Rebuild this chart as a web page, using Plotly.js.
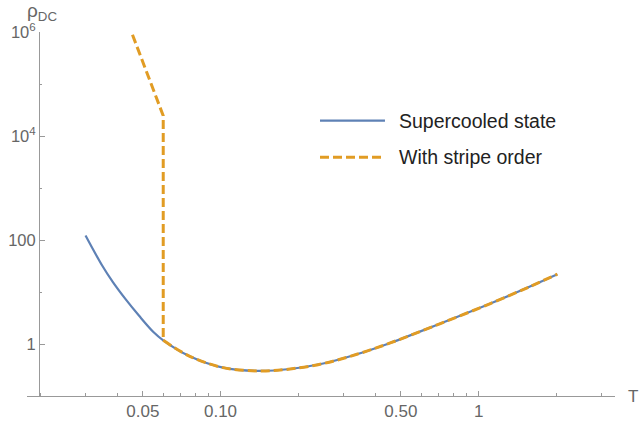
<!DOCTYPE html>
<html>
<head>
<meta charset="utf-8">
<script src="https://cdn.plot.ly/plotly-3.0.1.min.js"></script>
<style>
html,body{margin:0;padding:0;background:#fff;}
#chart{width:640px;height:426px;}
</style>
</head>
<body>
<div id="chart"></div>
<script>
// Supercooled state (blue solid)
var superT   = [0.030, 0.0348, 0.0383, 0.0428, 0.0483, 0.0551, 0.060, 0.076, 0.1023, 0.142, 0.186, 0.250, 0.3375, 0.4545, 0.711, 1.111, 1.589, 2.018];
var superRho = [123,   32.6,   15.6,   7.43,   3.56,   1.70,   1.19,  0.588, 0.356,  0.307, 0.335, 0.426, 0.642,  1.06,   2.50,  6.06,  13.0,  22.2];

// With stripe order (orange dashed): steep branch + vertical jump, then joins the curve
var stripeT   = [0.042, 0.0452, 0.060, 0.060];
var stripeRho = [2.6e6, 1.0e6,  2.46e4, 1.19];
var joinT = 0.060;

// Tick labels
var xTickVals = [0.05, 0.1, 0.5, 1];
var xTickText = ["0.05", "0.10", "0.50", "1"];
var xMinorVals = [0.02, 0.03, 0.04, 0.06, 0.07, 0.08, 0.09, 0.2, 0.3, 0.4, 0.6, 0.7, 0.8, 0.9, 2, 3];
var yTickVals = [1, 100, 1e4, 1e6];
var yTickText = ["1", "100", "10<sup>4</sup>", "10<sup>6</sup>"];
var yMinorVals = [10, 1000, 1e5];

var legendNames = ["Supercooled state", "With stripe order"];

var blue = "#5E81B5";
var orange = "#E19C24";
var axisCol = "#999999";
var labelCol = "#666666";
var fontFam = "Liberation Sans, Arial, sans-serif";

// curve part of the stripe-order line, taken from the shared curve
var curveT = [], curveRho = [];
for (var i = 0; i < superT.length; i++) {
  if (superT[i] >= joinT) { curveT.push(superT[i]); curveRho.push(superRho[i]); }
}

var traces = [
  {x: superT, y: superRho, mode: "lines", type: "scatter", showlegend: false,
   line: {color: blue, width: 2.2, shape: "spline", smoothing: 1}},
  {x: stripeT, y: stripeRho, mode: "lines", type: "scatter", showlegend: false,
   line: {color: orange, width: 3, dash: "9px,4px"}},
  {x: curveT, y: curveRho, mode: "lines", type: "scatter", showlegend: false,
   line: {color: orange, width: 3, dash: "9px,4px", shape: "spline", smoothing: 1}}
];

var legY = [0.7563, 0.6558];
var shapes = [
  {type: "line", xref: "paper", yref: "paper", x0: 0.4983, x1: 0.6088, y0: legY[0], y1: legY[0],
   line: {color: blue, width: 2.2}},
  {type: "line", xref: "paper", yref: "paper", x0: 0.4983, x1: 0.6088, y0: legY[1], y1: legY[1],
   line: {color: orange, width: 3, dash: "9px,4px"}}
];

var annotations = [
  {xref: "paper", yref: "paper", x: 0.6293, y: legY[0], xanchor: "left", yanchor: "middle",
   text: legendNames[0], showarrow: false, font: {family: fontFam, size: 19.5, color: "#222"}},
  {xref: "paper", yref: "paper", x: 0.6293, y: legY[1], xanchor: "left", yanchor: "middle",
   text: legendNames[1], showarrow: false, font: {family: fontFam, size: 19.5, color: "#222"}},
  {xref: "paper", yref: "paper", x: 0.0255, y: 1.055, xanchor: "center", yanchor: "middle",
   text: "ρ<sub>DC</sub>", showarrow: false, font: {family: fontFam, size: 19, color: labelCol}},
  {xref: "paper", yref: "paper", x: 1.0306, y: 0.0, xanchor: "center", yanchor: "middle",
   text: "T", showarrow: false, font: {family: fontFam, size: 17, color: labelCol}}
];

var layout = {
  width: 640, height: 426,
  margin: {l: 27, r: 25, t: 32, b: 30, pad: 0},
  paper_bgcolor: "#fff", plot_bgcolor: "#fff",
  showlegend: false,
  font: {family: fontFam, size: 16.5, color: labelCol},
  xaxis: {
    type: "log", range: [-1.7496, 0.5283],
    showline: true, linecolor: axisCol, linewidth: 1,
    showgrid: false, zeroline: false,
    ticks: "inside", ticklen: 5.5, tickwidth: 1, tickcolor: axisCol,
    tickmode: "array", tickvals: xTickVals, ticktext: xTickText,
    tickfont: {family: fontFam, size: 17, color: labelCol},
    minor: {tickmode: "array", tickvals: xMinorVals, ticks: "inside", ticklen: 3, tickwidth: 1, tickcolor: axisCol, showgrid: false}
  },
  yaxis: {
    type: "log", range: [-0.994, 6],
    anchor: "free", position: 0.0204,
    showline: true, linecolor: axisCol, linewidth: 1,
    showgrid: false, zeroline: false,
    ticks: "inside", ticklen: 5, tickwidth: 1, tickcolor: axisCol,
    tickmode: "array", tickvals: yTickVals, ticktext: yTickText,
    tickfont: {family: fontFam, size: 16.5, color: labelCol},
    minor: {tickmode: "array", tickvals: yMinorVals, ticks: "inside", ticklen: 2.5, tickwidth: 1, tickcolor: axisCol, showgrid: false}
  },
  shapes: shapes,
  annotations: annotations
};

Plotly.newPlot("chart", traces, layout, {staticPlot: true, displayModeBar: false});
</script>
</body>
</html>
